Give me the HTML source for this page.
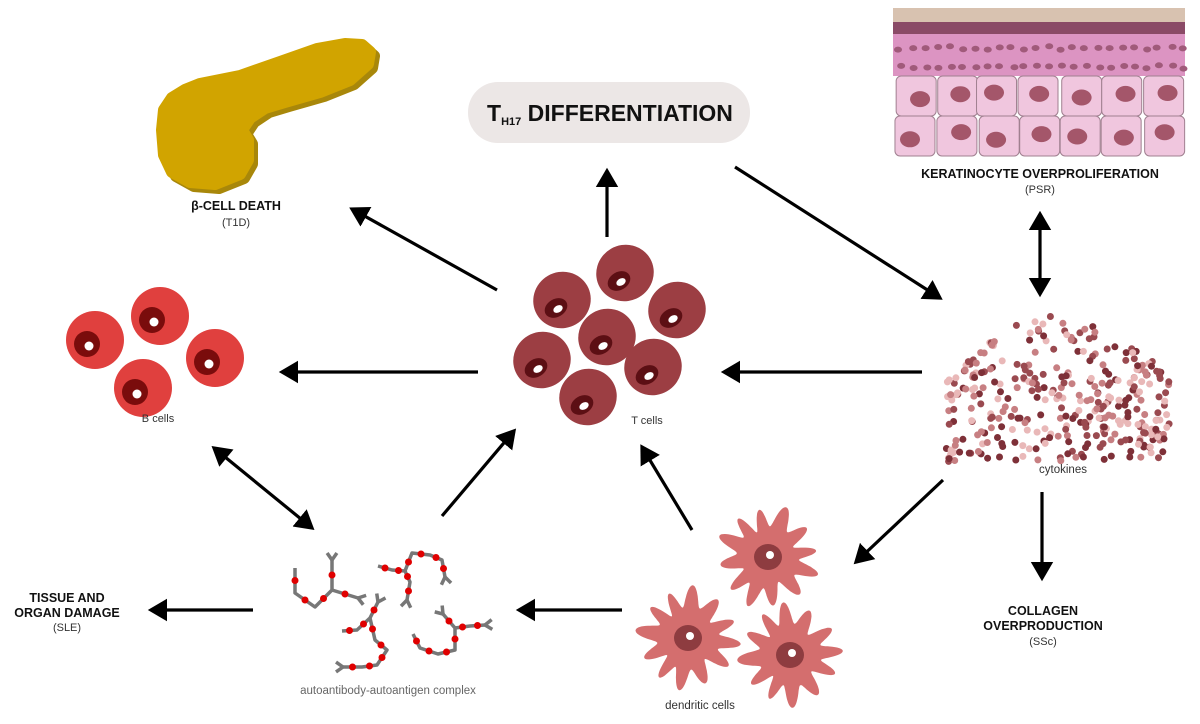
<!DOCTYPE html>
<html><head><meta charset="utf-8"><style>
html,body{margin:0;padding:0;background:#fff;width:1200px;height:724px;overflow:hidden}
svg{display:block}
text{font-family:"Liberation Sans",sans-serif}
.b{font-weight:bold;fill:#111}
.n{fill:#333}
</style></head><body>
<svg id="s" width="1200" height="724" viewBox="0 0 1200 724" xmlns="http://www.w3.org/2000/svg">
<defs>
<marker id="ah" markerWidth="8" markerHeight="8" refX="5" refY="4" orient="auto" markerUnits="strokeWidth">
<path d="M0,0.5 L6,4 L0,7.5 z" fill="#000"/></marker>
<marker id="as" markerWidth="8" markerHeight="8" refX="1" refY="4" orient="auto" markerUnits="strokeWidth">
<path d="M6,0.5 L0,4 L6,7.5 z" fill="#000"/></marker>
</defs>
<g stroke-linejoin="round" stroke-width="12">
<path transform="translate(4,4)" fill="#a8870a" stroke="#a8870a" d="M162,130 L164,110 L172,98 L185,90 L200,84 L240,76 L280,62 L317,49 L345,44 L362,45 L370,52 L368,64 L350,80 L320,92 L285,102 L265,108 L250,118 L242,130 L248,140 L248,160 L240,174 L215,184 L190,182 L172,172 L164,155 Z"/>
<path fill="#d1a400" stroke="#d1a400" d="M162,130 L164,110 L172,98 L185,90 L200,84 L240,76 L280,62 L317,49 L345,44 L362,45 L370,52 L368,64 L350,80 L320,92 L285,102 L265,108 L250,118 L242,130 L248,140 L248,160 L240,174 L215,184 L190,182 L172,172 L164,155 Z"/>
</g>
<text class="b" x="236" y="210" font-size="12.5" text-anchor="middle">β-CELL DEATH</text>
<text class="n" x="236" y="226" font-size="11" text-anchor="middle">(T1D)</text>
<rect x="468" y="82" width="282" height="61" rx="30" fill="#ece7e6"/>
<text class="b" x="487" y="121" font-size="23">T<tspan font-size="11" dy="4">H17</tspan><tspan dy="-4"> DIFFERENTIATION</tspan></text>
<g id="skin"></g>
<text class="b" x="1040" y="178" font-size="12.5" text-anchor="middle">KERATINOCYTE OVERPROLIFERATION</text>
<text class="n" x="1040" y="193" font-size="11" text-anchor="middle">(PSR)</text>
<g id="bc"></g>
<text class="n" x="158" y="422" font-size="11" text-anchor="middle">B cells</text>
<g id="tc"></g>
<text class="n" x="647" y="424" font-size="11" text-anchor="middle">T cells</text>
<g id="cyk"></g>
<text class="n" x="1063" y="473" font-size="11.5" text-anchor="middle">cytokines</text>
<g id="dc"></g>
<text class="n" x="700" y="709" font-size="11.5" text-anchor="middle">dendritic cells</text>
<g id="ab"></g>
<text x="388" y="694" font-size="11.5" text-anchor="middle" fill="#666">autoantibody-autoantigen complex</text>
<text class="b" x="67" y="602" font-size="12.5" text-anchor="middle">TISSUE AND</text>
<text class="b" x="67" y="617" font-size="12.5" text-anchor="middle">ORGAN DAMAGE</text>
<text class="n" x="67" y="631" font-size="11" text-anchor="middle">(SLE)</text>
<text class="b" x="1043" y="615" font-size="12.5" text-anchor="middle">COLLAGEN</text>
<text class="b" x="1043" y="630" font-size="12.5" text-anchor="middle">OVERPRODUCTION</text>
<text class="n" x="1043" y="645" font-size="11" text-anchor="middle">(SSc)</text>
<g stroke="#000" stroke-width="3.2" fill="none">
<line x1="497" y1="290" x2="352" y2="209" marker-end="url(#ah)"/>
<line x1="607" y1="237" x2="607" y2="171" marker-end="url(#ah)"/>
<line x1="735" y1="167" x2="940" y2="298" marker-end="url(#ah)"/>
<line x1="1040" y1="214" x2="1040" y2="294" marker-end="url(#ah)" marker-start="url(#as)"/>
<line x1="922" y1="372" x2="724" y2="372" marker-end="url(#ah)"/>
<line x1="478" y1="372" x2="282" y2="372" marker-end="url(#ah)"/>
<line x1="214" y1="448" x2="312" y2="528" marker-end="url(#ah)" marker-start="url(#as)"/>
<line x1="442" y1="516" x2="514" y2="431" marker-end="url(#ah)"/>
<line x1="692" y1="530" x2="642" y2="447" marker-end="url(#ah)"/>
<line x1="943" y1="480" x2="856" y2="562" marker-end="url(#ah)"/>
<line x1="1042" y1="492" x2="1042" y2="578" marker-end="url(#ah)"/>
<line x1="622" y1="610" x2="519" y2="610" marker-end="url(#ah)"/>
<line x1="253" y1="610" x2="151" y2="610" marker-end="url(#ah)"/>
</g>
</svg>
<script>
(function(){
var NS="http://www.w3.org/2000/svg";
function el(p,t,a){var e=document.createElementNS(NS,t);for(var k in a)e.setAttribute(k,a[k]);document.getElementById(p).appendChild(e);return e;}
var seed=7;function r(){seed=(seed*16807)%2147483647;return seed/2147483647;}
el("skin","rect",{x:893,y:8,width:292,height:16,fill:"#d8c2b0"});
el("skin","rect",{x:893,y:22,width:292,height:13,fill:"#8a4a66"});
el("skin","rect",{x:893,y:34,width:292,height:42,fill:"#dc94c2"});
for(var i=0;i<24;i++){el("skin","ellipse",{cx:898+i*12.3+r()*4,cy:46+r()*4,rx:4,ry:3,fill:"#a05a7a"});el("skin","ellipse",{cx:900+i*12.3+r()*4,cy:65+r()*4,rx:4,ry:3,fill:"#a05a7a"});}
for(var row=0;row<2;row++)for(var c=0;c<7;c++){var sx=895+c*41.5+(r()-.5)*3,sy=76+row*40;
el("skin","rect",{x:sx,y:sy,width:40,height:40,rx:5,fill:"#f0c6de",stroke:"#a08090","stroke-width":1});
el("skin","ellipse",{cx:sx+20+(r()-.5)*10,cy:sy+20+(r()-.5)*8,rx:10,ry:8,fill:"#a4566a"});}
[[160,316],[95,340],[215,358],[143,388]].forEach(function(p){
el("bc","circle",{cx:p[0],cy:p[1],r:29,fill:"#e0403e"});
el("bc","circle",{cx:p[0]-8,cy:p[1]+4,r:13,fill:"#7a0c0c"});
el("bc","circle",{cx:p[0]-6,cy:p[1]+6,r:4.5,fill:"#fff"});});
[[562,300],[625,273],[677,310],[607,337],[542,360],[653,367],[588,397]].forEach(function(p){
el("tc","ellipse",{cx:p[0],cy:p[1],rx:29,ry:28,fill:"#9c3e43",transform:"rotate(-30 "+p[0]+" "+p[1]+")"});
el("tc","ellipse",{cx:p[0]-6,cy:p[1]+8,rx:12,ry:9,fill:"#5c0f14",transform:"rotate(-30 "+(p[0]-6)+" "+(p[1]+8)+")"});
el("tc","ellipse",{cx:p[0]-4,cy:p[1]+9,rx:5,ry:3.5,fill:"#fff",transform:"rotate(-30 "+(p[0]-4)+" "+(p[1]+9)+")"});});
var cols=["#9a4a50","#c77f82","#e9b8b8","#7e3038"];
for(var q=0;q<340;q++){var tt=r()*2-1;var px=1058+112*tt;var tp=316+64*tt*tt;var py=tp+r()*(462-tp);
el("cyk","circle",{cx:px.toFixed(1),cy:py.toFixed(1),r:3.5,fill:cols[Math.floor(r()*4)]});}
[[768,557],[688,638],[790,655]].forEach(function(p,j){var d="";var N=360;var ph=r()*6;
for(var k=0;k<=N;k++){var a=k/N*Math.PI*2;var s=Math.sin(a*12+ph+0.5*Math.sin(a*3));var rr=40+10*s+3*Math.sin(a*4+j);
d+=(k?"L":"M")+(p[0]+rr*Math.cos(a)).toFixed(1)+","+(p[1]+rr*Math.sin(a)).toFixed(1);}
el("dc","path",{d:d+"Z",fill:"#d46e6e"});
el("dc","ellipse",{cx:p[0],cy:p[1],rx:14,ry:13,fill:"#8e3c40"});
el("dc","circle",{cx:p[0]+2,cy:p[1]-2,r:4,fill:"#fff"});});
var segs=[[[295,568],[295,593],[315,607],[332,590],[332,560]],[[332,590],[358,598]],
[[378,566],[392,570],[405,571],[410,582],[407,600]],[[405,571],[412,553],[430,555],[442,560],[445,577]],
[[342,631],[357,630],[370,618],[378,602]],[[370,618],[375,640],[387,650],[377,665],[362,667],[343,667]],
[[413,634],[420,648],[438,654],[455,650],[455,628],[443,614]],[[455,628],[470,626],[485,625]]];
segs.forEach(function(s){var d="";s.forEach(function(q,k){d+=(k?"L":"M")+q[0]+","+q[1];});
el("ab","path",{d:d,fill:"none",stroke:"#777","stroke-width":3.5,"stroke-linejoin":"round"});
for(var k=1;k<s.length;k++){el("ab","circle",{cx:(s[k][0]+s[k-1][0])/2,cy:(s[k][1]+s[k-1][1])/2,r:3.5,fill:"#e00000"});}
var e=s[s.length-1],f=s[s.length-2];var dx=e[0]-f[0],dy=e[1]-f[1],L=Math.hypot(dx,dy);dx/=L;dy/=L;
[[1,0.7],[1,-0.7]].forEach(function(m){var ux=dx*m[0]-dy*m[1],uy=dy*m[0]+dx*m[1];
el("ab","line",{x1:e[0],y1:e[1],x2:e[0]+ux*7,y2:e[1]+uy*7,stroke:"#777","stroke-width":3.5});});});
})();
</script>
</body></html>
